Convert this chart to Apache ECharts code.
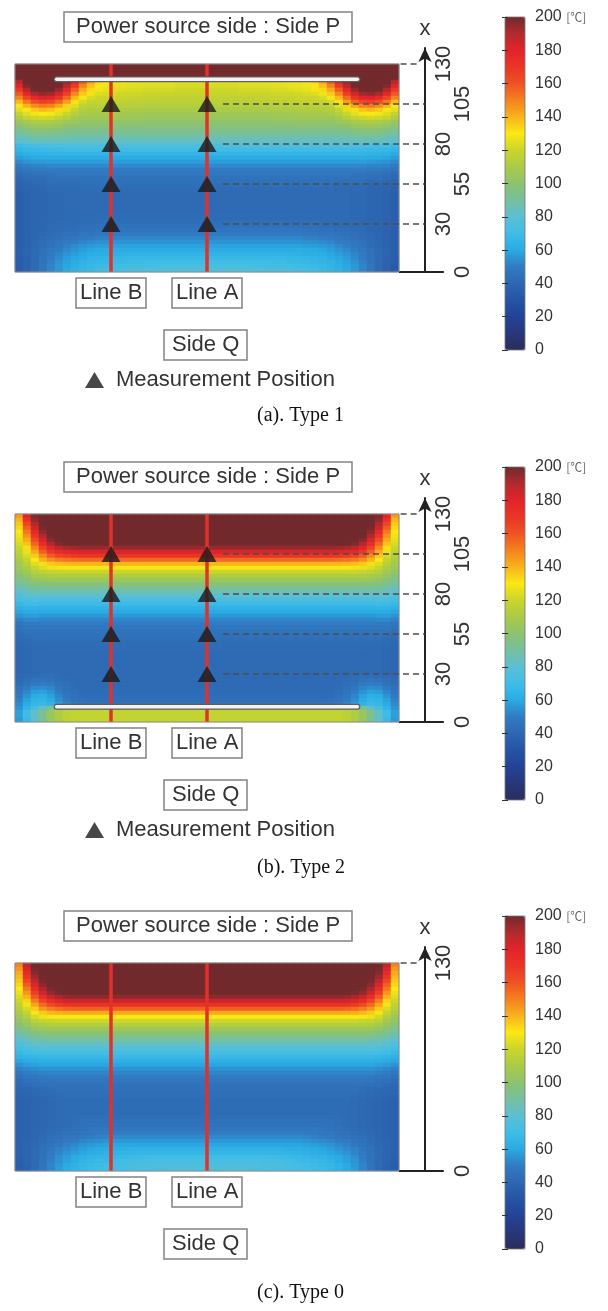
<!DOCTYPE html>
<html><head><meta charset="utf-8">
<script src="https://cdn.jsdelivr.net/npm/echarts@6/dist/echarts.min.js"></script>
<style>html,body{margin:0;padding:0;background:#fff}#c{width:608px;height:1311px}</style>
</head><body><div id="c"></div>
<script>
// ---------------- DATA ----------------
// Temperature cells [°C]: 48 columns across the width (5 units each, 0..240) and
// 52 rows over the height x = 0..130 (2.5 units each). Rows are listed from the top (x=130) down.
// The field is symmetric about Line A (the centre), so each row lists the left 24 cells.
const type1Field = [
[200,200,200,200,200,200,200,200,200,200,200,200,200,200,200,200,200,200,200,200,200,200,200,200],
[200,200,200,200,200,200,200,200,200,200,200,200,200,200,200,200,200,200,200,200,200,200,200,200],
[200,200,200,200,200,200,200,200,200,200,200,200,200,200,200,200,200,200,200,200,200,200,200,200],
[200,200,200,200,200,200,200,200,200,200,200,200,200,200,200,200,200,200,200,200,200,200,200,200],
[190,200,200,200,200,200,195,180,158,143,133,129,128,128,127,127,126,126,126,126,125,125,125,125],
[180,198,200,200,200,200,188,168,150,138,131,128,127,126,125,125,124,124,124,124,123,123,123,123],
[169,190,200,200,200,194,177,158,142,133,128,126,125,124,123,123,122,122,122,122,121,121,121,121],
[159,179,191,195,193,183,167,149,136,128,124,123,122,121,121,121,120,120,120,120,119,119,119,119],
[150,165,177,182,180,170,155,139,129,123,121,120,120,119,119,118,118,118,117,117,117,117,117,117],
[139,152,162,167,164,156,144,131,122,119,118,118,117,117,116,116,116,115,115,115,115,115,115,115],
[131,140,148,152,150,143,134,125,117,115,115,115,115,114,114,114,113,113,113,113,113,113,113,113],
[125,131,136,139,137,132,126,119,113,112,112,112,112,111,111,111,110,110,110,110,110,110,110,110],
[118,124,128,130,129,125,120,114,110,109,109,109,109,108,108,108,107,107,107,107,107,107,107,107],
[112,118,121,122,121,118,114,109,106,106,106,106,106,105,105,105,104,104,104,104,104,104,104,104],
[104,108,111,112,111,109,106,104,103,103,103,103,102,102,102,102,101,101,101,101,101,101,101,101],
[99,103,105,106,106,104,101,100,99,99,99,99,99,98,98,98,98,98,98,98,98,98,98,98],
[94,97,99,100,99,98,96,95,95,95,95,95,95,95,95,95,95,95,95,95,95,95,95,95],
[89,92,94,94,94,93,92,91,91,91,91,91,91,91,91,91,91,91,91,91,91,91,91,91],
[84,87,88,89,89,88,88,87,87,87,87,87,87,87,87,87,87,87,87,87,87,87,87,87],
[79,81,83,83,83,83,83,82,82,82,82,82,82,82,82,82,82,82,82,82,82,82,82,82],
[69,71,72,73,74,75,75,76,76,76,76,76,76,76,76,76,76,76,76,76,76,76,76,76],
[65,67,68,68,69,69,70,70,70,70,70,70,70,70,70,70,70,70,70,70,70,70,70,70],
[61,63,64,64,65,65,65,65,65,65,65,65,65,65,65,65,65,65,65,65,65,65,65,65],
[57,59,60,60,61,61,61,61,61,61,61,61,61,61,61,61,61,61,61,61,61,61,61,61],
[53,55,56,56,57,57,57,57,57,57,57,57,57,57,57,57,57,57,57,57,57,57,57,57],
[49,51,52,52,53,53,53,53,53,53,53,53,53,53,53,53,53,53,53,53,53,53,53,53],
[46,48,49,49,50,50,50,50,50,50,50,50,50,50,50,50,50,50,50,50,50,50,50,50],
[43,45,46,46,47,47,48,48,48,48,48,48,48,48,48,48,48,48,48,48,48,48,48,48],
[41,43,44,44,45,45,46,46,46,46,46,46,46,46,46,46,46,46,46,46,46,46,46,46],
[39,41,42,42,44,44,44,44,45,45,45,45,45,45,45,45,45,45,45,45,45,45,45,45],
[38,40,41,41,43,43,43,43,44,44,44,44,44,44,44,44,44,44,44,44,44,44,44,44],
[37,39,40,40,42,42,42,42,43,43,43,43,43,43,43,43,43,43,43,43,43,43,43,43],
[36,38,39,39,41,41,42,42,42,42,42,42,42,42,42,42,42,42,42,42,42,42,42,42],
[36,38,39,39,41,41,42,42,42,42,42,42,42,42,42,42,42,42,42,42,42,42,42,42],
[36,38,39,39,41,41,42,42,42,42,42,42,42,42,42,42,42,42,42,42,42,42,42,42],
[36,38,39,39,41,41,42,42,42,42,42,42,42,42,42,42,42,42,42,42,42,42,42,42],
[36,38,39,39,41,41,42,42,42,42,42,42,42,42,42,42,42,42,42,42,42,42,42,42],
[36,38,39,39,41,41,42,42,42,42,43,43,43,43,43,43,43,43,43,43,43,43,43,43],
[36,38,39,39,41,41,42,42,43,43,43,43,43,43,43,43,43,43,43,43,43,43,43,43],
[36,38,39,40,41,42,43,43,43,43,44,44,44,44,44,44,44,44,44,44,44,44,44,44],
[36,38,39,40,42,42,43,43,44,44,45,45,45,45,45,45,45,45,45,45,45,45,45,45],
[36,38,39,40,42,43,44,44,45,45,46,46,47,47,47,47,47,47,47,47,47,47,47,47],
[36,38,40,41,43,44,45,46,47,47,48,48,49,49,49,49,49,49,49,49,49,49,49,49],
[36,38,40,42,44,45,47,48,49,50,51,51,52,52,52,52,52,52,52,52,52,52,52,52],
[36,38,41,43,45,47,49,50,52,53,54,54,55,55,55,55,55,55,55,55,55,55,55,55],
[36,38,41,43,46,48,51,53,55,56,57,57,58,58,58,58,58,58,58,58,58,58,58,58],
[36,39,42,45,48,50,53,55,57,59,60,60,61,61,61,61,61,61,61,61,61,61,61,61],
[36,39,42,45,49,52,55,57,59,61,62,62,63,63,64,64,64,64,64,64,64,64,64,64],
[35,38,42,46,50,53,57,59,61,63,64,65,66,66,67,67,67,67,67,67,67,67,67,67],
[35,38,42,46,51,55,58,61,63,65,66,67,68,68,69,69,70,70,70,70,70,70,70,70],
[34,38,42,47,52,56,59,62,65,67,68,69,70,71,72,72,72,72,73,73,73,73,73,73],
[34,38,42,47,52,56,60,63,66,68,70,71,72,73,74,74,75,75,75,75,76,76,76,76]
];

const type2Field = [
[145,180,198,200,200,200,200,200,200,200,200,200,200,200,200,200,200,200,200,200,200,200,200,200],
[140,172,195,200,200,200,200,200,200,200,200,200,200,200,200,200,200,200,200,200,200,200,200,200],
[136,165,190,200,200,200,200,200,200,200,200,200,200,200,200,200,200,200,200,200,200,200,200,200],
[133,158,184,199,200,200,200,200,200,200,200,200,200,200,200,200,200,200,200,200,200,200,200,200],
[130,152,177,195,200,200,200,200,200,200,200,200,200,200,200,200,200,200,200,200,200,200,200,200],
[128,147,170,190,200,200,200,200,200,200,200,200,200,200,200,200,200,200,200,200,200,200,200,200],
[126,142,163,183,197,200,200,200,200,200,200,200,200,200,200,200,200,200,200,200,200,200,200,200],
[123,137,156,175,190,198,200,200,200,200,200,200,200,200,200,200,200,200,200,200,200,200,200,200],
[120,132,149,166,180,188,192,193,194,194,194,194,194,194,194,194,194,194,194,194,194,194,194,194],
[117,127,142,157,169,176,179,181,182,182,182,182,182,182,182,182,182,182,182,182,182,182,182,182],
[114,123,136,148,158,164,167,169,170,170,170,170,170,170,170,170,170,170,170,170,170,170,170,170],
[111,119,130,140,147,151,153,154,155,155,155,155,155,155,155,155,155,155,155,155,155,155,155,155],
[108,115,124,132,136,138,139,140,140,140,140,140,140,140,140,140,140,140,140,140,140,140,140,140],
[105,111,119,124,127,128,129,129,129,129,129,129,129,129,129,129,129,129,129,129,129,129,129,129],
[102,107,114,117,119,120,120,120,120,120,120,120,120,120,120,120,120,120,120,120,120,120,120,120],
[98,103,108,110,111,112,112,112,112,112,112,112,112,112,112,112,112,112,112,112,112,112,112,112],
[94,98,102,104,105,105,105,105,105,105,105,105,105,105,105,105,105,105,105,105,105,105,105,105],
[90,94,97,98,98,98,98,98,98,98,98,98,98,98,98,98,98,98,98,98,98,98,98,98],
[85,89,91,92,92,92,92,92,92,92,92,92,92,92,92,92,92,92,92,92,92,92,92,92],
[80,84,86,86,86,86,86,86,86,86,86,86,86,86,86,86,86,86,86,86,86,86,86,86],
[76,79,80,80,80,80,80,80,80,80,80,80,80,80,80,80,80,80,80,80,80,80,80,80],
[72,74,75,74,74,74,74,74,74,74,74,74,74,74,74,74,74,74,74,74,74,74,74,74],
[67,69,70,69,69,69,69,69,69,69,69,69,69,69,69,69,69,69,69,69,69,69,69,69],
[63,65,65,64,64,64,64,64,64,64,64,64,64,64,64,64,64,64,64,64,64,64,64,64],
[59,61,61,60,60,60,60,60,60,60,60,60,60,60,60,60,60,60,60,60,60,60,60,60],
[55,57,57,56,56,56,56,56,56,56,56,56,56,56,56,56,56,56,56,56,56,56,56,56],
[51,53,53,52,52,52,52,52,52,52,52,52,52,52,52,52,52,52,52,52,52,52,52,52],
[48,50,50,50,50,50,50,50,50,50,50,50,50,50,50,50,50,50,50,50,50,50,50,50],
[46,48,48,48,48,48,48,48,48,48,48,48,48,48,48,48,48,48,48,48,48,48,48,48],
[44,46,46,46,46,46,46,46,46,46,46,46,46,46,46,46,46,46,46,46,46,46,46,46],
[43,44,45,45,45,45,45,45,45,45,45,45,45,45,45,45,45,45,45,45,45,45,45,45],
[42,43,44,44,44,44,44,44,44,44,44,44,44,44,44,44,44,44,44,44,44,44,44,44],
[41,42,43,43,43,43,43,43,43,43,43,43,43,43,43,43,43,43,43,43,43,43,43,43],
[40,41,42,42,43,43,43,43,43,43,43,43,43,43,43,43,43,43,43,43,43,43,43,43],
[40,41,42,42,42,42,42,42,42,42,42,42,42,42,42,42,42,42,42,42,42,42,42,42],
[40,41,42,42,42,42,42,42,42,42,42,42,42,42,42,42,42,42,42,42,42,42,42,42],
[40,41,42,42,42,42,42,42,42,42,42,42,42,42,42,42,42,42,42,42,42,42,42,42],
[40,41,42,42,42,42,42,42,42,42,42,42,42,42,42,42,42,42,42,42,42,42,42,42],
[40,41,42,42,42,42,42,42,42,42,42,42,42,42,42,42,42,42,42,42,42,42,42,42],
[40,41,42,42,42,42,42,42,42,42,42,42,42,42,42,42,42,42,42,42,42,42,42,42],
[41,42,43,44,44,43,42,42,42,42,42,42,42,42,42,42,42,42,42,42,42,42,42,42],
[42,44,46,47,46,44,43,42,42,42,42,42,42,42,42,42,42,42,42,42,42,42,42,42],
[43,46,49,50,49,46,44,43,42,42,42,42,42,42,42,42,42,42,42,42,42,42,42,42],
[45,49,53,54,52,48,45,43,42,42,42,42,42,42,42,42,42,42,42,42,42,42,42,42],
[47,52,57,58,55,50,46,44,43,43,43,43,43,43,43,43,43,43,43,43,43,43,43,43],
[49,55,61,62,58,52,47,45,43,43,43,43,43,43,43,43,43,43,43,43,43,43,43,43],
[51,58,64,65,61,54,49,46,45,44,44,44,44,44,44,44,44,44,44,44,44,44,44,44],
[53,60,66,68,64,57,52,49,47,46,46,46,46,46,46,46,46,46,46,46,46,46,46,46],
[55,64,72,82,92,100,104,106,108,108,108,108,108,108,108,108,108,108,108,108,108,108,108,108],
[58,70,82,94,104,112,116,118,118,118,118,118,118,118,118,118,118,118,118,118,118,118,118,118],
[58,70,82,94,104,112,116,118,118,118,118,118,118,118,118,118,118,118,118,118,118,118,118,118],
[56,68,80,92,103,111,116,118,118,118,118,118,118,118,118,118,118,118,118,118,118,118,118,118]
];

const type0Field = [
[150,188,200,200,200,200,200,200,200,200,200,200,200,200,200,200,200,200,200,200,200,200,200,200],
[146,182,199,200,200,200,200,200,200,200,200,200,200,200,200,200,200,200,200,200,200,200,200,200],
[142,176,197,200,200,200,200,200,200,200,200,200,200,200,200,200,200,200,200,200,200,200,200,200],
[139,170,193,200,200,200,200,200,200,200,200,200,200,200,200,200,200,200,200,200,200,200,200,200],
[136,164,188,199,200,200,200,200,200,200,200,200,200,200,200,200,200,200,200,200,200,200,200,200],
[133,158,182,196,200,200,200,200,200,200,200,200,200,200,200,200,200,200,200,200,200,200,200,200],
[130,152,175,191,199,200,200,200,200,200,200,200,200,200,200,200,200,200,200,200,200,200,200,200],
[127,146,167,184,195,199,200,200,200,200,200,200,200,200,200,200,200,200,200,200,200,200,200,200],
[124,140,159,175,186,192,195,196,196,196,196,196,196,196,196,196,196,196,196,196,196,196,196,196],
[121,134,151,165,175,181,184,185,185,185,185,185,185,185,185,185,185,185,185,185,185,185,185,185],
[117,128,143,155,163,168,171,172,172,172,172,172,172,172,172,172,172,172,172,172,172,172,172,172],
[114,123,136,146,151,154,156,157,157,157,157,157,157,157,157,157,157,157,157,157,157,157,157,157],
[110,118,129,136,139,141,142,142,142,142,142,142,142,142,142,142,142,142,142,142,142,142,142,142],
[106,113,122,127,129,130,130,130,130,130,130,130,130,130,130,130,130,130,130,130,130,130,130,130],
[102,108,116,119,120,121,121,121,121,121,121,121,121,121,121,121,121,121,121,121,121,121,121,121],
[98,103,109,112,113,113,113,113,113,113,113,113,113,113,113,113,113,113,113,113,113,113,113,113],
[94,98,103,105,106,106,106,106,106,106,106,106,106,106,106,106,106,106,106,106,106,106,106,106],
[89,93,97,99,100,100,100,100,100,100,100,100,100,100,100,100,100,100,100,100,100,100,100,100],
[84,88,91,93,94,94,94,94,94,94,94,94,94,94,94,94,94,94,94,94,94,94,94,94],
[79,83,86,87,88,88,88,88,88,88,88,88,88,88,88,88,88,88,88,88,88,88,88,88],
[75,78,81,82,82,82,82,82,82,82,82,82,82,82,82,82,82,82,82,82,82,82,82,82],
[71,74,76,77,77,77,77,77,77,77,77,77,77,77,77,77,77,77,77,77,77,77,77,77],
[67,70,71,72,72,72,72,72,72,72,72,72,72,72,72,72,72,72,72,72,72,72,72,72],
[63,65,66,67,67,67,67,67,67,67,67,67,67,67,67,67,67,67,67,67,67,67,67,67],
[59,61,62,63,63,63,63,63,63,63,63,63,63,63,63,63,63,63,63,63,63,63,63,63],
[55,57,58,59,59,59,59,59,59,59,59,59,59,59,59,59,59,59,59,59,59,59,59,59],
[51,53,54,55,55,55,55,55,55,55,55,55,55,55,55,55,55,55,55,55,55,55,55,55],
[48,50,51,52,52,52,52,52,52,52,52,52,52,52,52,52,52,52,52,52,52,52,52,52],
[45,47,48,49,50,50,50,50,50,50,50,50,50,50,50,50,50,50,50,50,50,50,50,50],
[43,45,46,47,48,48,48,48,48,48,48,48,48,48,48,48,48,48,48,48,48,48,48,48],
[41,43,44,45,46,46,46,46,46,46,46,46,46,46,46,46,46,46,46,46,46,46,46,46],
[40,41,42,43,44,45,45,45,45,45,45,45,45,45,45,45,45,45,45,45,45,45,45,45],
[39,40,41,42,43,44,44,44,44,44,44,44,44,44,44,44,44,44,44,44,44,44,44,44],
[38,39,40,41,42,43,44,44,44,44,44,44,44,44,44,44,44,44,44,44,44,44,44,44],
[37,38,39,40,41,42,43,43,43,43,43,43,43,43,43,43,43,43,43,43,43,43,43,43],
[37,38,39,40,41,42,43,43,43,43,43,43,43,43,43,43,43,43,43,43,43,43,43,43],
[37,38,39,40,41,42,43,43,43,43,43,43,43,43,43,43,43,43,43,43,43,43,43,43],
[37,38,39,40,41,42,43,43,43,43,43,43,43,43,43,43,43,43,43,43,43,43,43,43],
[37,38,39,40,41,42,43,44,44,44,44,44,44,44,44,44,44,44,44,44,44,44,44,44],
[37,38,39,40,41,42,43,44,45,45,45,45,45,45,45,45,45,45,45,45,45,45,45,45],
[37,38,39,40,41,42,43,44,45,46,46,46,46,46,46,46,46,46,46,46,46,46,46,46],
[37,38,39,40,42,43,44,45,46,47,48,48,48,48,48,48,48,48,48,48,48,48,48,48],
[37,38,40,41,43,44,45,46,47,48,49,49,50,50,50,50,50,50,50,50,50,50,50,50],
[37,38,40,42,44,45,47,48,49,50,51,52,53,53,53,53,53,53,53,53,53,53,53,53],
[37,39,41,43,45,47,49,50,52,53,54,55,56,56,56,56,56,56,56,56,56,56,56,56],
[37,39,41,44,46,48,51,53,55,56,57,58,59,59,59,59,59,59,59,59,59,59,59,59],
[37,39,42,45,48,51,53,55,57,59,60,61,62,62,63,63,63,63,63,63,63,63,63,63],
[37,39,42,45,49,52,55,57,59,61,62,63,64,65,65,66,66,66,66,66,66,66,66,66],
[36,39,42,46,50,54,57,60,62,64,65,66,67,68,69,69,70,70,70,70,70,70,70,70],
[36,39,42,46,51,55,58,61,64,66,67,68,69,70,71,72,72,73,73,73,73,73,73,73],
[35,38,42,47,52,56,60,63,66,68,69,70,71,72,73,74,74,75,75,75,75,75,75,75],
[35,38,42,47,52,57,61,64,67,69,70,71,72,73,74,75,75,76,76,77,77,77,77,77]
];

const measurementHeights = [30, 55, 80, 105];          // x of the triangles and dashed guides
const lineBWidthPos = 60;                               // Line B (quarter of the width)
const lineAWidthPos = 120;                              // Line A (centre)
const rulerLabelsNear = [[130, 80, 30], [130, 80, 30], [130]];
const rulerLabelsFar  = [[105, 55, 0], [105, 55, 0], [0]];
const heaterType1 = [[26, 120.5], [214, 120.5]];
const heaterType2 = [[26, 9.5], [214, 9.5]];
const colorbarMin = 0, colorbarMax = 200, colorbarStep = 20;
const captions = ['(a). Type 1', '(b). Type 2', '(c). Type 0'];
const topBoxText = 'Power source side : Side P';
const lineBText = 'Line B', lineAText = 'Line A', bottomBoxText = 'Side Q';
const legendText = 'Measurement Position';
const colormap = ['#2b2d5c','#28377a','#234396','#2554a4','#2d67b1','#317bc2','#29abe4','#3fbde6','#5cbfd3','#75c0a0','#8dc26e','#aacb48','#c9d52a','#fbe815','#f9b31b','#f4821f','#ef5224','#e93526','#e3242a','#b12a2e','#722a2c'];

// ---------------- BUILD ----------------
const sans = '"Liberation Sans", Arial, sans-serif';
const serif = '"Liberation Serif", "Times New Roman", serif';
const NCOL = 48, NROW = 52;
const columnLabels = [], rowLabels = [];
for (let c = 0; c < NCOL; c++) columnLabels.push(String(c * 5 + 2.5));
for (let r = 0; r < NROW; r++) rowLabels.push(String(r * 2.5 + 1.25));

function fieldData(halfRows, name) {
  if (halfRows.length !== NROW) throw new Error(name + ' rows ' + halfRows.length);
  const out = [];
  halfRows.forEach((half, i) => {
    if (half.length !== NCOL / 2) throw new Error(name + ' row ' + i + ' has ' + half.length);
    const full = half.concat(half.slice().reverse());
    full.forEach((v, c) => out.push([c, NROW - 1 - i, v]));
  });
  return out;
}

const panels = [
  {off: 0,   field: type1Field, name: 'type1', heater: heaterType1, marks: true,  capTop: 406},
  {off: 450, field: type2Field, name: 'type2', heater: heaterType2, marks: true,  capTop: 858},
  {off: 899, field: type0Field, name: 'type0', heater: null,        marks: false, capTop: 1283}
];

const option = {animation: false, backgroundColor: '#fff', title: [], legend: [], grid: [], xAxis: [], yAxis: [], visualMap: [], series: []};

function boxTitle(text, left, top, pad) {
  return {text, left, top, padding: pad, borderColor: '#828282', borderWidth: 1.5,
    textStyle: {fontFamily: sans, fontSize: 22, fontWeight: 'normal', color: '#333', lineHeight: 22}};
}

panels.forEach((P, p) => {
  const o = P.off;
  const g = option.grid.length;
  option.grid.push({left: 15, top: 64 + o, width: 384, height: 208, show: true, borderColor: '#8c8c8c', borderWidth: 1, backgroundColor: 'transparent', z: 5, outerBoundsMode: 'none', containLabel: false});
  option.grid.push({left: 15, top: 48 + o, width: 428.8, height: 224, outerBoundsMode: 'none', containLabel: false});
  option.grid.push({left: 505, top: 17 + o, width: 20, height: 333, show: true, borderColor: '#777', borderWidth: 0.8, backgroundColor: 'transparent', z: 10, outerBoundsMode: 'none', containLabel: false});

  const xi = option.xAxis.length;
  option.xAxis.push({type: 'category', gridIndex: g, data: columnLabels, show: false});
  option.xAxis.push({type: 'value', gridIndex: g + 1, min: 0, max: 268, show: false});
  option.xAxis.push({type: 'value', gridIndex: g + 2, min: 0, max: 1, show: false});

  const yi = option.yAxis.length;
  const rulerLabel = {rotate: 90, fontSize: 22, color: '#333', fontFamily: sans};
  option.yAxis.push({type: 'category', gridIndex: g, data: rowLabels, show: false});
  option.yAxis.push({type: 'value', gridIndex: g + 1, min: 0, max: 140, position: 'right', offset: -18.8,
    name: 'x', nameLocation: 'end', nameGap: 8, nameTextStyle: {fontSize: 22, color: '#333', fontFamily: sans},
    axisLine: {show: true, onZero: false, symbol: ['none', 'arrow'], symbolSize: [10, 14], lineStyle: {color: '#222', width: 2}},
    axisTick: {show: false}, splitLine: {show: false},
    axisLabel: Object.assign({customValues: rulerLabelsNear[p], margin: 8}, rulerLabel)});
  option.yAxis.push({type: 'value', gridIndex: g + 1, min: 0, max: 140, position: 'right', offset: -18.8,
    axisLine: {show: false}, axisTick: {show: false}, splitLine: {show: false},
    axisLabel: Object.assign({customValues: rulerLabelsFar[p], margin: 27}, rulerLabel)});
  option.yAxis.push({type: 'value', gridIndex: g + 2, min: colorbarMin, max: colorbarMax, interval: colorbarStep, position: 'right', z: 12,
    axisLine: {show: false}, splitLine: {show: false},
    axisTick: {show: true, inside: true, length: 3, lineStyle: {color: '#333', width: 1}},
    axisLabel: {margin: 10, fontSize: 16, color: '#333', fontFamily: sans,
      formatter: v => v === colorbarMax ? v + ' {u|[℃]}' : String(v),
      rich: {u: {fontSize: 12, color: '#666', fontFamily: '"Noto Sans CJK JP", sans-serif'}}}});
  option.yAxis.push({type: 'value', gridIndex: g + 2, min: colorbarMin, max: colorbarMax, interval: colorbarStep, position: 'left', z: 12,
    axisLine: {show: false}, splitLine: {show: false}, axisLabel: {show: false},
    axisTick: {show: true, inside: true, length: 3, lineStyle: {color: '#333', width: 1}}});

  const hs = option.series.length;
  option.series.push({type: 'heatmap', xAxisIndex: xi, yAxisIndex: yi, data: fieldData(P.field, P.name), silent: true, z: 1, emphasis: {disabled: true}});
  option.visualMap.push({type: 'continuous', seriesIndex: hs, min: colorbarMin, max: colorbarMax, left: 505, top: 17 + o, z: 1,
    itemWidth: 20, itemHeight: 333, calculable: false, hoverLink: false, padding: 0, inRange: {color: colormap}});

  const ov = {xAxisIndex: xi + 1, yAxisIndex: yi + 1, silent: true};
  [lineBWidthPos, lineAWidthPos].forEach(xv => {
    option.series.push(Object.assign({type: 'line', data: [[xv, 0], [xv, 130]], symbol: 'none', z: 4,
      lineStyle: {color: '#e3302b', width: 3.5}}, ov));
  });
  if (P.heater) {
    option.series.push(Object.assign({type: 'line', data: P.heater, symbol: 'none', z: 5, lineStyle: {color: '#5e5e5e', width: 6, cap: 'round'}}, ov));
    option.series.push(Object.assign({type: 'line', data: P.heater, symbol: 'none', z: 6, lineStyle: {color: '#f3f3f3', width: 3.5, cap: 'round'}}, ov));
  }
  const guides = [[{coord: [241, 130]}, {coord: [253, 130]}]];
  if (P.marks) measurementHeights.forEach(h => guides.push([{coord: [130, h]}, {coord: [256, h]}]));
  option.series.push(Object.assign({type: 'line', data: [[240, 0], [268, 0]], symbol: 'none', z: 4,
    lineStyle: {color: '#222', width: 2},
    markLine: {silent: true, symbol: 'none', animation: false, label: {show: false},
      lineStyle: {type: [6, 4], color: '#4d4d4d', width: 1.5}, emphasis: {disabled: true}, data: guides}}, ov));
  if (P.marks) {
    const pts = [];
    [lineBWidthPos, lineAWidthPos].forEach(xv => measurementHeights.forEach(h => pts.push([xv, h])));
    option.series.push(Object.assign({type: 'scatter', name: legendText, data: pts, symbol: 'triangle', symbolSize: [19, 16], z: 7,
      itemStyle: {color: '#1a1a1a'}}, ov));
    option.legend.push({left: 85, top: 369 + o, padding: 0, selectedMode: false, itemWidth: 19, itemHeight: 16,
      data: [{name: legendText, icon: 'triangle', itemStyle: {color: '#1a1a1a'}}],
      textStyle: {fontFamily: sans, fontSize: 22, color: '#333', padding: [0, 0, 0, 7]}});
  }

  option.title.push(boxTitle(topBoxText, 64, 12 + o, [4, 12]));
  option.title.push(boxTitle(lineBText, 76, 278 + o, [4, 4]));
  option.title.push(boxTitle(lineAText, 172, 278 + o, [4, 4]));
  option.title.push(boxTitle(bottomBoxText, 164, 330 + o, [4, 8]));
  option.title.push({text: captions[p], left: 257, top: P.capTop, padding: 0,
    textStyle: {fontFamily: serif, fontSize: 20, fontWeight: 'normal', color: '#111'}});
});

const chart = echarts.init(document.getElementById('c'), null, {renderer: 'canvas', width: 608, height: 1311});
chart.setOption(option);
</script>
</body></html>
